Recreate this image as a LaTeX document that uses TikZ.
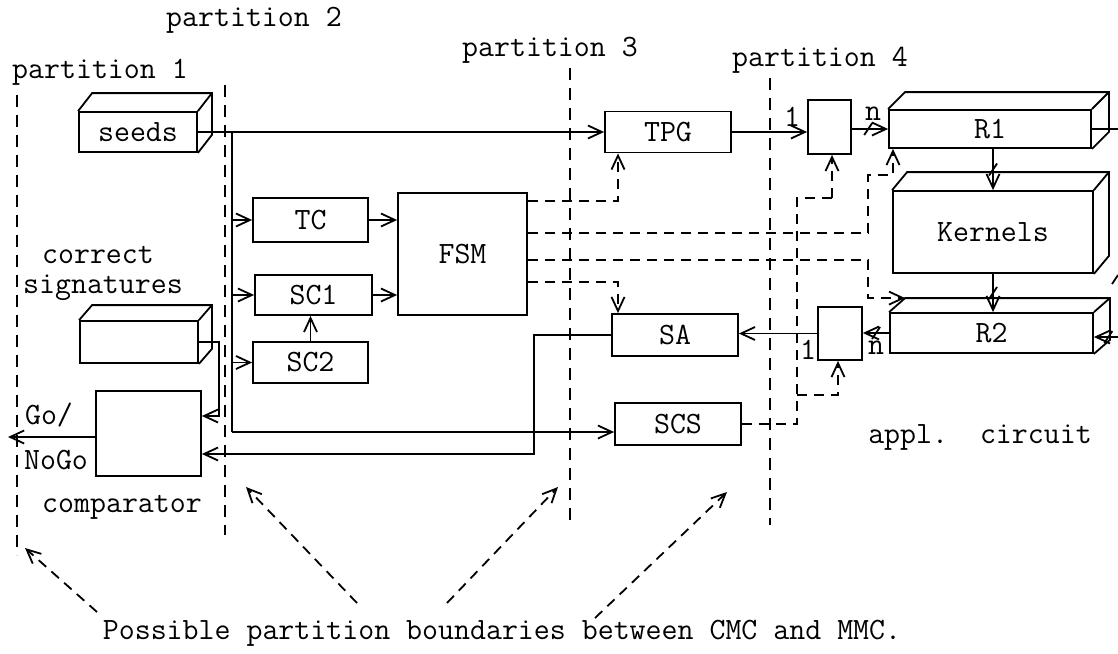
\documentclass[tikz,border=0pt]{standalone}
\usetikzlibrary{arrows.meta}
\newcommand\tf{\fontsize{15.5pt}{18pt}\selectfont\ttfamily}
\tikzset{
  lw/.style={line width=0.9pt},
  blk/.style={draw, lw, inner sep=0pt, font=\tf},
  wire/.style={lw},
  arr/.style={-{Straight Barb[length=7pt,width=6.5pt]}},
  dwire/.style={lw, dash pattern=on 5pt off 3.5pt},
  part/.style={lw, dash pattern=on 6pt off 4pt},
  lbl/.style={inner sep=0pt, font=\tf},
}
% top and right faces of a box drawn as a cuboid
\newcommand\cuboidfaces[3]{%
  \draw[lw] (#1.north west) -- ++(#2,-#3) -- ([shift={(#2,-#3)}]#1.north east)
    -- ([shift={(#2,-#3)}]#1.south east) -- (#1.south east);
  \draw[lw] (#1.north east) -- ++(#2,-#3);}
% slash across a bus connector
\newcommand\busmark[1]{\draw[lw] ([shift={(-4,6)}]#1) -- ([shift={(4,-6)}]#1);}
\begin{document}
\begin{tikzpicture}[x=0.5pt,y=-0.5pt]
\useasboundingbox (0,0) rectangle (1118,653);

% partition boundaries
\draw[part] (17,95) -- (17,555);
\draw[part] (225,85) -- (225,535);
\draw[part] (570,68) -- (570,520);
\draw[part] (770,78) -- (770,525);
\node[lbl] (pl1) at (100,72) {partition 1};
\node[lbl] (pl2) at (254,20) {partition 2};
\node[lbl] (pl3) at (550,50) {partition 3};
\node[lbl] (pl4) at (820,60) {partition 4};

% partition 1
\node[blk, minimum width=59pt, minimum height=20pt] (seeds) at (138,132) {seeds};
\cuboidfaces{seeds}{14}{18}
\node[lbl, anchor=base] (sigt1) at (98,263) {correct};
\node[lbl, anchor=base] (sigt2) at (103,293) {signatures};
\node[blk, minimum width=59pt, minimum height=21pt] (sig) at (139,342) {};
\cuboidfaces{sig}{13}{15}
\node[blk, minimum width=52.5pt, minimum height=42.5pt] (comp) at (148.5,433.5) {};
\node[lbl] (compt) at (122,507) {comparator};
\node[lbl] (go) at (49,415) {Go/};
\node[lbl] (nogo) at (56,460) {NoGo};

% partition 2
\node[blk, minimum width=57.5pt, minimum height=22pt] (tc) at (310.5,220) {TC};
\node[blk, minimum width=58.5pt, minimum height=20pt] (sc1) at (313.5,295) {SC1};
\node[blk, minimum width=57.5pt, minimum height=20.5pt] (sc2) at (310.5,362.5) {SC2};
\node[blk, minimum width=64.5pt, minimum height=61pt] (fsm) at (462.5,254) {FSM};

% partition 3
\node[blk, minimum width=63pt, minimum height=20.5pt] (tpg) at (668,132) {TPG};
\node[blk, minimum width=63pt, minimum height=21pt] (sa) at (675,335) {SA};
\node[blk, minimum width=63pt, minimum height=21pt] (scs) at (678,424) {SCS};

% partition 4 and application circuit
\node[blk, minimum width=21.5pt, minimum height=27pt] (mux1) at (829.5,127) {};
\node[blk, minimum width=22pt, minimum height=26.5pt] (mux2) at (840,333.5) {};
\node[blk, minimum width=101pt, minimum height=19pt] (r1) at (990,129) {R1};
\cuboidfaces{r1}{17}{17}
\node[blk, minimum width=100pt, minimum height=41pt] (kern) at (993,232) {Kernels};
\cuboidfaces{kern}{15}{18}
\node[blk, minimum width=101.5pt, minimum height=20pt] (r2) at (991.5,333) {R2};
\cuboidfaces{r2}{16}{14}
\node[lbl] (appl) at (980,437) {appl.\ \ circuit};

% seeds distribution
\coordinate (bj) at (232,432);
\draw[wire,arr] (seeds.east) -- (seeds.east -| tpg.west);
\draw[wire] (seeds.east -| bj) -- (bj);
\draw[wire,arr] (bj) -- (bj -| scs.west);
\draw[wire,arr] (tc.west -| bj) -- (tc.west);
\draw[wire,arr] (sc1.west -| bj) -- (sc1.west);
\draw[wire,arr] (sc2.west -| bj) -- (sc2.west);
\draw[wire,arr] (tc.east) -- (tc.east -| fsm.west);
\draw[wire,arr] (sc1.east) -- (sc1.east -| fsm.west);
\draw[wire,arr] (sc2.north) -- (sc2.north |- sc1.south);

% FSM control lines
\coordinate (d1) at (618,201);
\draw[dwire,arr] (fsm.east |- d1) -- (d1) -- (d1 |- tpg.south);
\coordinate (d2a) at (868,233);
\coordinate (d2b) at (868,175);
\coordinate (d2c) at (893,175);
\draw[dwire,arr] (fsm.east |- d2a) -- (d2a) -- (d2b) -- (d2c) -- (d2c |- r1.south);
\coordinate (d3) at (868,260);
\coordinate (r2back) at ([shift={(16,-14)}]r2.north west);
\draw[dwire,arr] (fsm.east |- d3) -- (d3) -- (d3 |- r2back) -- (r2back);
\coordinate (d4) at (618,282);
\draw[dwire,arr] (fsm.east |- d4) -- (d4) -- (d4 |- sa.north);

% signature comparison
\coordinate (s1) at (534,454);
\draw[wire,arr] (sa.west) -| (s1) -- (s1 -| comp.east);
\coordinate (c1) at (219,416);
\draw[wire,arr] (sig.east) -| (c1) -- (c1 -| comp.east);
\coordinate (gout) at (8,437);
\draw[wire,arr] (comp.west |- gout) -- (gout);

% test data path through the circuit
\draw[wire,arr] (tpg.east) -- (tpg.east -| mux1.west);
\node[lbl] (one1) at (792,117) {1};
\draw[wire,arr] (mux1.east |- r1.west) -- coordinate[pos=0.45] (bm1) (r1.west);
\busmark{bm1}
\node[lbl] (n1) at (873,114) {n};
\draw[wire,arr] (r1.south -| kern.north) -- coordinate (bm2) (kern.north);
\busmark{bm2}
\draw[wire,arr] (kern.south) -- coordinate (bm3) (kern.south |- r2.north);
\busmark{bm3}
\draw[wire,arr] (r2.west) -- coordinate (bm4) (r2.west -| mux2.east);
\busmark{bm4}
\node[lbl] (n2) at (876,348) {n};
\draw[wire,arr] (mux2.west) -- (mux2.west -| sa.east);
\node[lbl] (one2) at (808,350) {1};
\coordinate (r1out) at (1118,128);
\draw[wire] (r1.east) -- (r1.east -| r1out);
\coordinate (r2in) at (1118,337);
\draw[wire,arr] (r2in) -- coordinate[pos=0.4] (bm5) (r2in -| r2.east);
\busmark{bm5}
\draw[wire] (1112,284) -- (1118,275);

% SCS control lines
\coordinate (e1) at (797,198);
\coordinate (e2) at (832,198);
\coordinate (e3) at (797,395);
\coordinate (e4) at (838,395);
\draw[dwire] (scs.east) -| (e1) -- (e2);
\draw[dwire,arr] (e2) -- (e2 |- mux1.south);
\draw[dwire,arr] (e3) -- (e4) -- (e4 |- mux2.south);

% caption and pointers to the boundaries
\node[lbl] (cap) at (502,633) {Possible partition boundaries between CMC and MMC.};
\coordinate (a1s) at (97,612);  \coordinate (a1e) at (25,548);
\coordinate (a2s) at (357,603); \coordinate (a2e) at (246,487);
\coordinate (a3s) at (447,603); \coordinate (a3e) at (558,487);
\coordinate (a4s) at (595,618); \coordinate (a4e) at (727,492);
\draw[dwire,arr] (a1s) -- (a1e);
\draw[dwire,arr] (a2s) -- (a2e);
\draw[dwire,arr] (a3s) -- (a3e);
\draw[dwire,arr] (a4s) -- (a4e);
\end{tikzpicture}
\end{document}
